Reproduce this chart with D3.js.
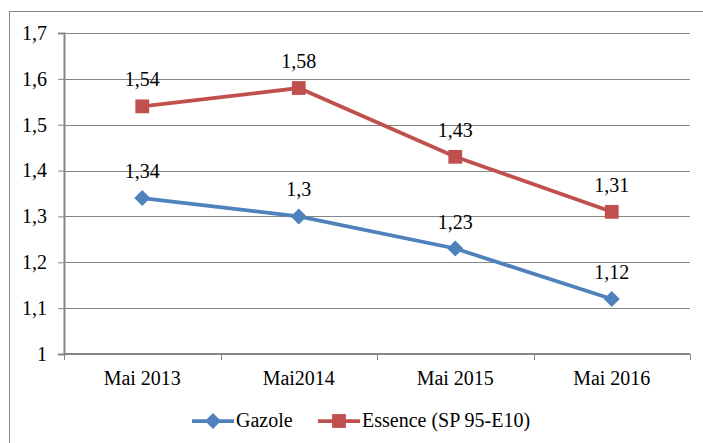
<!DOCTYPE html>
<meta charset="utf-8">
<style>
    body { margin: 0; background: #fff; }
</style>
<div class="chart"></div>
<script src="https://cdn.jsdelivr.net/npm/d3@7"></script>
<script>
    var categories = ["Mai 2013", "Mai2014", "Mai 2015", "Mai 2016"];
    var gazole = [1.34, 1.3, 1.23, 1.12];
    var essence = [1.54, 1.58, 1.43, 1.31];
    var yTicks = [1, 1.1, 1.2, 1.3, 1.4, 1.5, 1.6, 1.7];

    var W = 703, H = 443;
    var plot = {left: 64, top: 33, right: 690, bottom: 354};
    var gridColor = "#868686";
    var FONT = "'Liberation Serif', 'Times New Roman', serif";
    var FS = "20px";
    var fmt = function(v) { return String(v).replace(".", ","); };

    var svg = d3.select(".chart").append("svg")
        .attr("width", W).attr("height", H)
        .style("font-family", FONT).style("font-size", FS);

    // outer frame (runs off the picture on the right and bottom)
    svg.append("rect")
        .attr("x", 9.5).attr("y", 11.5)
        .attr("width", 720).attr("height", 460)
        .attr("fill", "none").attr("stroke", gridColor);

    var x = d3.scaleBand().domain(categories).range([plot.left, plot.right]);
    var y = d3.scaleLinear().domain([1, 1.7]).range([plot.bottom, plot.top]);

    // gridlines
    svg.append("g").selectAll("line")
        .data(yTicks.slice(1))
        .enter().append("line")
        .attr("x1", plot.left).attr("x2", plot.right)
        .attr("y1", function(d) { return Math.round(y(d)) + 0.5; })
        .attr("y2", function(d) { return Math.round(y(d)) + 0.5; })
        .attr("stroke", gridColor).attr("stroke-width", 1);

    // y axis
    var yAxis = d3.axisLeft(y).tickValues(yTicks).tickSize(6).tickPadding(11)
        .tickFormat(fmt);
    var gy = svg.append("g")
        .attr("transform", "translate(" + plot.left + ",0)")
        .call(yAxis)
        .attr("font-family", null).attr("font-size", null);
    gy.select(".domain").attr("stroke", gridColor).attr("stroke-width", 2);
    gy.selectAll(".tick line").attr("stroke", gridColor);
    gy.selectAll(".tick text").attr("fill", "#000")
        .style("font-family", FONT).style("font-size", FS);

    // x axis: ticks at band boundaries
    var gx = svg.append("g");
    gx.append("line")
        .attr("x1", plot.left).attr("x2", plot.right)
        .attr("y1", plot.bottom).attr("y2", plot.bottom)
        .attr("stroke", gridColor).attr("stroke-width", 2);
    var bounds = categories.map(function(c) { return x(c); }).concat([plot.right]);
    gx.selectAll("line.tk")
        .data(bounds)
        .enter().append("line").attr("class", "tk")
        .attr("x1", function(d) { return Math.round(d) + 0.5; })
        .attr("x2", function(d) { return Math.round(d) + 0.5; })
        .attr("y1", plot.bottom).attr("y2", plot.bottom + 6)
        .attr("stroke", gridColor);
    gx.selectAll("text")
        .data(categories)
        .enter().append("text")
        .attr("x", function(d) { return x(d) + x.bandwidth() / 2; })
        .attr("y", plot.bottom + 31)
        .attr("text-anchor", "middle")
        .style("font-family", FONT).style("font-size", FS)
        .text(function(d) { return d; });

    var series = [
        {name: "Gazole", values: gazole, color: "#4F81BD", marker: d3.symbolSquare, size: 128, rot: 45},
        {name: "Essence (SP 95-E10)", values: essence, color: "#C0504D", marker: d3.symbolSquare, size: 190, rot: 0}
    ];

    var line = d3.line()
        .x(function(d, i) { return x(categories[i]) + x.bandwidth() / 2; })
        .y(function(d) { return y(d); });

    series.forEach(function(s) {
        var g = svg.append("g");
        g.append("path")
            .attr("d", line(s.values))
            .attr("fill", "none")
            .attr("stroke", s.color)
            .attr("stroke-width", 3.75);
        g.selectAll("path.mk")
            .data(s.values)
            .enter().append("path").attr("class", "mk")
            .attr("d", d3.symbol().type(s.marker).size(s.size))
            .attr("transform", function(d, i) {
                return "translate(" + (x(categories[i]) + x.bandwidth() / 2) + "," + y(d) + ") rotate(" + s.rot + ")";
            })
            .attr("fill", s.color);
        g.selectAll("text")
            .data(s.values)
            .enter().append("text")
            .attr("x", function(d, i) { return x(categories[i]) + x.bandwidth() / 2; })
            .attr("y", function(d) { return y(d) - 20; })
            .attr("text-anchor", "middle")
            .style("font-family", FONT).style("font-size", FS)
            .text(fmt);
    });

    // legend
    var legend = [
        {x: 192, s: series[0]},
        {x: 318, s: series[1]}
    ];
    legend.forEach(function(l) {
        var g = svg.append("g").attr("transform", "translate(" + l.x + ",421)");
        g.append("line").attr("x1", 0).attr("x2", 42)
            .attr("stroke", l.s.color).attr("stroke-width", 3.75);
        g.append("path")
            .attr("d", d3.symbol().type(l.s.marker).size(l.s.size))
            .attr("transform", "translate(21,0) rotate(" + l.s.rot + ")")
            .attr("fill", l.s.color);
        g.append("text").attr("x", 44).attr("y", 6)
            .style("font-family", FONT).style("font-size", FS)
            .text(l.s.name);
    });
</script>
